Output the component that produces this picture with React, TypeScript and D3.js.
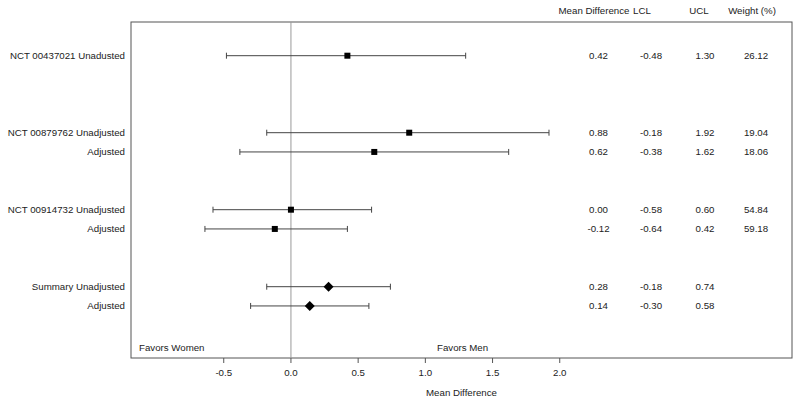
import React from "react";
import * as d3 from "d3";

const labels = [
  "NCT 00437021 Unadusted",
  "NCT 00879762 Unadjusted",
  "Adjusted",
  "NCT 00914732 Unadjusted",
  "Adjusted",
  "Summary Unadjusted",
  "Adjusted",
];
const rowIndex = [0, 4, 5, 8, 9, 12, 13];
const meanDiff = [0.42, 0.88, 0.62, 0.0, -0.12, 0.28, 0.14];
const lcl = [-0.48, -0.18, -0.38, -0.58, -0.64, -0.18, -0.3];
const ucl = [1.3, 1.92, 1.62, 0.6, 0.42, 0.74, 0.58];
const weight: (number | null)[] = [26.12, 19.04, 18.06, 54.84, 59.18, null, null];
const isSummary = [false, false, false, false, false, true, true];
const xTicks = [-0.5, 0, 0.5, 1.0, 1.5, 2.0];
const headers = ["Mean Difference", "LCL", "UCL", "Weight (%)"];

const W = 800;
const H = 404;
const left = 131;
const right = 792;
const top = 22;
const bottom = 358;

export default function App() {
  const x = d3.scaleLinear().domain([-1.19, 3.728]).range([left, right]);
  const y = d3.scaleLinear().domain([0, 1]).range([55.7, 74.95]);
  const font = "'Liberation Sans', Arial, sans-serif";
  const fs = 9.7;
  const headerX = [594, 642, 699, 752];
  const colX = [598.5, 651, 705, 756];
  const fmt = (v: number) => d3.format(".2f")(v).replace("\u2212", "-");
  const fmt1 = (v: number) => d3.format(".1f")(v).replace("\u2212", "-");
  const r = 5;
  const diamondPath = `M0,${-r}L${r},0L0,${r}L${-r},0Z`;

  return (
    <svg
      width={W}
      height={H}
      style={{ position: "absolute", left: 0, top: 0, fontFamily: font }}
    >
      <rect x={0} y={0} width={W} height={H} fill="#fff" />
      {headers.map((h, i) => (
        <text key={h} x={headerX[i]} y={11} dy="0.35em" textAnchor="middle" fontSize={fs} fill="#222">
          {h}
        </text>
      ))}
      <rect x={left} y={top} width={right - left} height={bottom - top} fill="none" stroke="#555" strokeWidth={1} />
      <line x1={x(0)} x2={x(0)} y1={top} y2={bottom} stroke="#999" strokeWidth={1} />
      {labels.map((lab, i) => {
        const yy = y(rowIndex[i]);
        return (
          <g key={i}>
            <text x={125} y={yy} dy="0.35em" textAnchor="end" fontSize={fs} fill="#222">
              {lab}
            </text>
            <line x1={x(lcl[i])} x2={x(ucl[i])} y1={yy} y2={yy} stroke="#444" strokeWidth={1} />
            <line x1={x(lcl[i])} x2={x(lcl[i])} y1={yy - 3} y2={yy + 3} stroke="#444" strokeWidth={1} />
            <line x1={x(ucl[i])} x2={x(ucl[i])} y1={yy - 3} y2={yy + 3} stroke="#444" strokeWidth={1} />
            {isSummary[i] ? (
              <path d={diamondPath} transform={`translate(${x(meanDiff[i])},${yy})`} fill="#000" />
            ) : (
              <rect x={x(meanDiff[i]) - 3} y={yy - 3} width={6} height={6} fill="#000" />
            )}
            <text x={colX[0]} y={yy} dy="0.35em" textAnchor="middle" fontSize={fs} fill="#222">
              {fmt(meanDiff[i])}
            </text>
            <text x={colX[1]} y={yy} dy="0.35em" textAnchor="middle" fontSize={fs} fill="#222">
              {fmt(lcl[i])}
            </text>
            <text x={colX[2]} y={yy} dy="0.35em" textAnchor="middle" fontSize={fs} fill="#222">
              {fmt(ucl[i])}
            </text>
            {weight[i] !== null && (
              <text x={colX[3]} y={yy} dy="0.35em" textAnchor="middle" fontSize={fs} fill="#222">
                {fmt(weight[i] as number)}
              </text>
            )}
          </g>
        );
      })}
      <text x={139} y={348} dy="0.35em" fontSize={fs} fill="#222">Favors Women</text>
      <text x={437} y={348} dy="0.35em" fontSize={fs} fill="#222">Favors Men</text>
      {xTicks.map((t) => (
        <g key={t}>
          <line x1={x(t)} x2={x(t)} y1={bottom} y2={bottom + 5} stroke="#555" />
          <text x={x(t)} y={373} dy="0.35em" textAnchor="middle" fontSize={fs} fill="#222">
            {fmt1(t)}
          </text>
        </g>
      ))}
      <text x={(left + right) / 2} y={393} dy="0.35em" textAnchor="middle" fontSize={fs} fill="#222">
        Mean Difference
      </text>
    </svg>
  );
}
